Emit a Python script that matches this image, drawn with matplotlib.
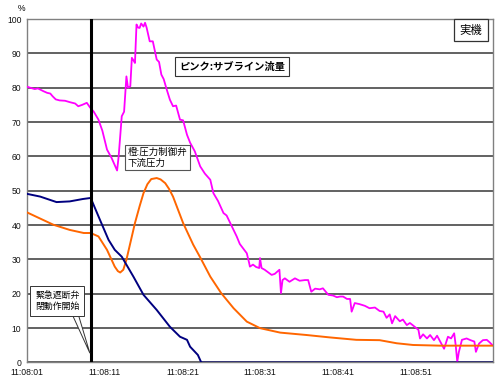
import matplotlib
matplotlib.use("Agg")
import matplotlib.pyplot as plt
from matplotlib.patches import Polygon

plt.rcParams['font.family'] = ['Noto Sans CJK JP', 'DejaVu Sans']

# ---- data (seconds from 11:08:01, percent) ----
pink_t = [0, 0.4, 1.0, 1.4, 2.1, 2.6, 3.0, 3.3, 3.7, 4.2, 4.9, 5.5, 6.2, 6.6, 7.1, 7.7,
          8.1, 8.6, 9.2, 9.7, 10.3, 10.9, 11.6, 11.8, 12.2, 12.5, 12.8, 13.0, 13.3, 13.5,
          13.7, 13.9, 14.1, 14.3, 14.5, 14.7, 15.0, 15.2, 15.4, 15.6, 15.8, 16.2, 16.7,
          17.0, 17.3, 17.6, 18.0, 18.4, 18.8, 19.2, 19.7, 20.1, 20.6, 21.0, 21.6, 22.3,
          22.9, 23.6, 24.0, 24.6, 25.3, 25.7, 26.4, 27.0, 27.4, 27.9, 28.3, 28.6, 28.7,
          29.1, 29.5, 29.9, 30.0, 30.2, 30.6, 31.5, 31.9, 32.5, 32.7, 32.9, 33.2, 33.8,
          34.5, 35.1, 35.8, 36.2, 36.6, 37.1, 37.7, 38.1, 38.5, 38.8, 39.4, 39.9, 40.3,
          40.7, 41.2, 41.6, 41.8, 42.2, 42.8, 43.5, 44.1, 44.8, 45.4, 45.9, 46.3, 46.7,
          47.0, 47.4, 48.0, 48.4, 48.9, 49.3, 49.7, 50.4, 50.6, 51.0, 51.5, 51.9, 52.4,
          52.8, 53.2, 53.7, 54.2, 54.6, 55.0, 55.2, 55.4, 55.6, 56.0, 56.6, 57.1, 57.6,
          57.8, 58.2, 58.7, 59.2, 59.6, 59.9]
pink_v = [80.3, 80.0, 79.6, 79.8, 79.0, 78.5, 78.3, 77.5, 76.6, 76.3, 76.2, 75.8, 75.4, 74.6,
          75.0, 75.6, 74.3, 73.0, 70.7, 67.5, 62.0, 59.5, 55.9, 60.0, 71.7, 73.0, 83.3, 80.0,
          80.4, 88.7, 88.0, 87.2, 98.4, 97.5, 97.4, 98.7, 97.8, 98.9, 97.5, 95.5, 93.5, 93.5,
          88.2, 87.5, 83.8, 82.5, 79.4, 76.5, 74.6, 74.8, 70.7, 70.5, 66.3, 64.0, 61.5, 57.1,
          55.0, 53.2, 49.3, 47.0, 43.5, 42.8, 39.5, 36.7, 34.5, 33.0, 31.8, 29.0, 27.9, 28.5,
          27.8, 27.5, 30.4, 27.5, 27.0, 25.5, 25.8, 27.0, 20.2, 24.0, 24.5, 23.5, 24.5, 23.8,
          24.0, 24.0, 20.6, 21.5, 21.3, 21.6, 20.5, 19.7, 19.5, 19.0, 19.2, 19.2, 18.5, 18.5,
          14.8, 17.3, 17.0, 16.5, 15.8, 16.0, 15.0, 14.8, 13.0, 14.0, 11.4, 13.5, 12.0, 12.5,
          10.9, 11.5, 10.8, 9.5, 7.0, 8.2, 7.0, 8.0, 6.5, 7.8, 6.1, 4.0, 7.5, 7.0, 8.5, 5.0,
          0.2, 3.0, 6.6, 7.0, 6.5, 6.1, 3.1, 5.5, 6.5, 6.6, 5.8, 5.1]

orange_t = [0, 3.4, 5.5, 7.3, 8.2, 9.2, 10.3, 11.3, 11.7, 12.0, 12.4, 12.8, 13.9, 14.5,
            15.0, 15.5, 16.0, 16.7, 17.2, 17.8, 18.3, 18.8, 20.1, 21.4, 22.3, 23.6, 25.0,
            26.6, 28.3, 30.0, 32.6, 36.0, 39.0, 42.4, 45.4, 47.6, 49.7, 53.2, 60.0]
orange_v = [43.7, 40.1, 38.6, 37.7, 37.7, 36.7, 32.8, 27.9, 26.6, 26.2, 27.0, 29.9, 40.6,
            45.5, 49.3, 51.9, 53.4, 53.7, 53.3, 52.2, 50.5, 48.3, 40.6, 34.3, 30.6, 25.0,
            20.2, 15.8, 11.9, 10.0, 8.7, 8.0, 7.3, 6.6, 6.5, 5.6, 5.1, 4.9, 4.9]

navy_t = [0, 1.7, 3.8, 5.5, 7.2, 8.2, 9.4, 10.5, 11.3, 12.2, 13.7, 15.0, 16.7, 18.4,
          19.7, 20.6, 21.0, 22.0, 22.4, 22.5, 60.0]
navy_v = [49.1, 48.3, 46.7, 46.9, 47.6, 47.9, 41.5, 35.7, 32.8, 30.8, 25.0, 19.7, 15.3,
          10.4, 7.5, 6.6, 4.6, 2.2, 0.2, 0, 0]

valve_t = 8.2
xtick_pos = [0, 10, 20, 30, 40, 50]
xtick_labels = ["11:08:01", "11:08:11", "11:08:21", "11:08:31", "11:08:41", "11:08:51"]
ytick_pos = list(range(0, 101, 10))

fig = plt.figure(figsize=(5, 3.84), dpi=100)
ax = fig.add_axes([0.054, 0.056, 0.932, 0.8945])

ax.plot(pink_t, pink_v, color="#FF00FF", lw=1.3, zorder=3)
ax.plot(orange_t, orange_v, color="#FF6600", lw=1.4, zorder=3)
ax.plot(navy_t, navy_v, color="#000080", lw=1.4, zorder=3)
ax.axvline(valve_t, color="black", lw=2.2, zorder=4)

ax.set_xlim(0, 60)
ax.set_ylim(0, 100)
ax.set_xticks(xtick_pos)
ax.set_xticklabels(xtick_labels)
ax.set_yticks(ytick_pos)
ax.tick_params(length=0, labelsize=6.2, colors="#111111", pad=4)
for lab in ax.get_xticklabels() + ax.get_yticklabels():
    lab.set_family(["Liberation Sans", "DejaVu Sans"])
ax.yaxis.grid(True, color="#555555", lw=1.3)
ax.set_axisbelow(True)
for s in ax.spines.values():
    s.set_color("#808080")
    s.set_linewidth(1.0)

fig.text(0.044, 0.978, "%", fontsize=6.2, ha="center", va="center",
         family=["Liberation Sans", "DejaVu Sans"])

ax.text(0.953, 0.968, "実機", transform=ax.transAxes, fontsize=8.2, ha="center", va="center",
        bbox=dict(boxstyle="square,pad=0.5", fc="white", ec="#333333", lw=0.9), zorder=6)
ax.text(0.44, 0.862, "ピンク:サブライン流量", transform=ax.transAxes, fontsize=7.4,
        fontweight="bold", ha="center", va="center",
        bbox=dict(boxstyle="square,pad=0.4", fc="white", ec="#333333", lw=0.8), zorder=6)
ax.text(0.216, 0.596, "橙:圧力制御弁\n下流圧力", transform=ax.transAxes, fontsize=6.8,
        ha="left", va="center", linespacing=1.3,
        bbox=dict(boxstyle="square,pad=0.25", fc="white", ec="#555555", lw=0.8), zorder=6)

# callout pointer for the valve note
ax.add_patch(Polygon([(0.097, 0.14), (0.135, 0.027), (0.110, 0.14)],
                     closed=True, transform=ax.transAxes, fc="white", ec="#333333",
                     lw=0.7, zorder=5))
ax.text(0.065, 0.179, "緊急遮断弁\n閉動作開始", transform=ax.transAxes, fontsize=6.4,
        ha="center", va="center", linespacing=1.4,
        bbox=dict(boxstyle="square,pad=0.55", fc="white", ec="#333333", lw=0.7), zorder=6)

fig.savefig("out.png", dpi=100)
